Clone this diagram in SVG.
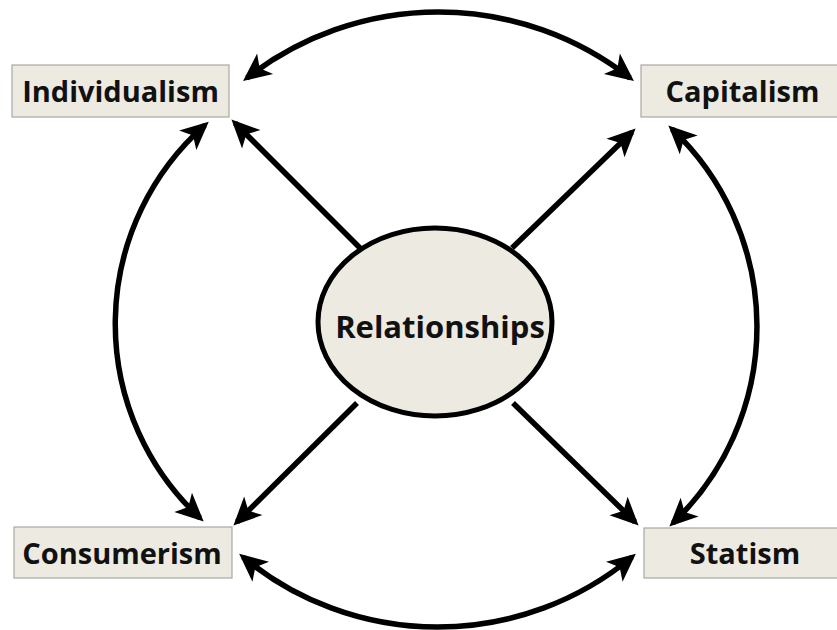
<svg xmlns="http://www.w3.org/2000/svg" width="837" height="630" viewBox="0 0 837 630">
  <style>
    .box { fill: #ECEAE1; stroke: #A8A8A4; stroke-width: 1.2; }
    .lbl { font-family: "Open Sans", "Liberation Sans", sans-serif; font-weight: bold; font-size: 29px; fill: #111; text-anchor: middle; }
    .conn { fill: none; stroke: #000; stroke-width: 5.5; marker-end: url(#ah); }
    .dbl { marker-start: url(#ah); }
  </style>
  <defs>
    <marker id="ah" markerUnits="userSpaceOnUse" viewBox="-2 -15 33 30" markerWidth="33" markerHeight="30" refX="23" refY="0" orient="auto-start-reverse">
      <path d="M0,-13 L28,0 L0,13 L7,0 Z" fill="#000"/>
    </marker>
  </defs>
  <rect width="837" height="630" fill="#fff"/>

  <g id="connectors">
    <path class="conn" d="M362,250 L235,123"/>
    <path class="conn" d="M512,248 L632,132"/>
    <path class="conn" d="M357,403 L237,522"/>
    <path class="conn" d="M513,403 L635,522"/>
    <path class="conn dbl" d="M247,78 A311,311 0 0 1 630,78"/>
    <path class="conn dbl" d="M205,125 A265,265 0 0 0 200,518"/>
    <path class="conn dbl" d="M672,129 A272,272 0 0 1 673,523"/>
    <path class="conn dbl" d="M243,557 A305,305 0 0 0 632,557"/>
  </g>

  <g id="relationships">
    <ellipse cx="435" cy="322" rx="117" ry="94" fill="#ECEAE1" stroke="#000" stroke-width="5"/>
    <text class="lbl" x="440" y="338" style="font-size:31px">Relationships</text>
  </g>
  <g id="individualism">
    <rect class="box" x="12" y="65" width="217" height="52"/>
    <text class="lbl" x="120.5" y="102">Individualism</text>
  </g>
  <g id="capitalism">
    <rect class="box" x="641" y="65" width="200" height="52"/>
    <text class="lbl" x="742.5" y="102">Capitalism</text>
  </g>
  <g id="consumerism">
    <rect class="box" x="14" y="527" width="218" height="51"/>
    <text class="lbl" x="122" y="564">Consumerism</text>
  </g>
  <g id="statism">
    <rect class="box" x="644" y="528" width="197" height="50"/>
    <text class="lbl" x="745" y="564">Statism</text>
  </g>
</svg>
